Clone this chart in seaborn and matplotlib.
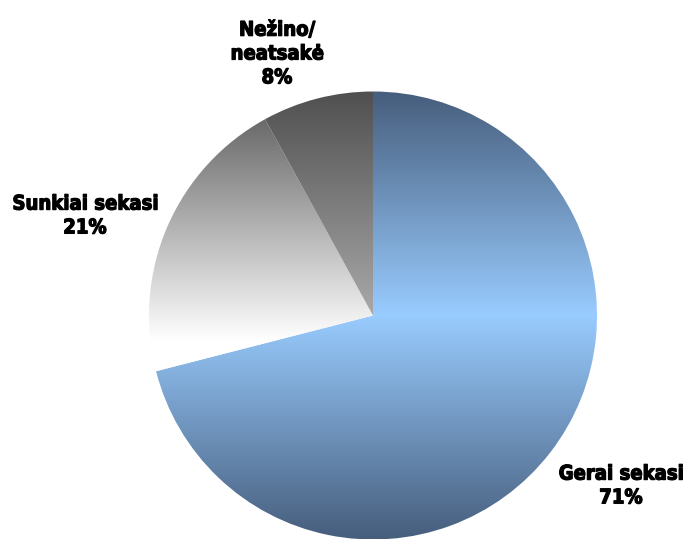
import numpy as np
import matplotlib
matplotlib.use("Agg")
import matplotlib.pyplot as plt
import matplotlib.patheffects as pe
from matplotlib.colors import to_rgb
import seaborn as sns

# Survey answers and their shares (%)
categories = ["Gerai sekasi", "Sunkiai sekasi", "Nežino/\nneatsakė"]
shares = [71, 21, 8]

sns.set_theme(style="white")
plt.rcParams["font.family"] = ["DejaVu Sans"]

W, H = 685, 539
fig = plt.figure(figsize=(W / 100, H / 100), dpi=100)
ax = fig.add_axes([0, 0, 1, 1])

cx, cy_px, r = 373, 315.5, 224
cy = H - cy_px

wedges, _ = ax.pie(shares, startangle=90, counterclock=False,
                   center=(cx, cy), radius=r,
                   wedgeprops=dict(linewidth=0, edgecolor="none"))
ax.set_aspect("auto")
ax.axis("off")

# Vertical gradient stops per slice, given as (pixel row from top, colour)
gradients = [
    [(93, "#475e7d"), (315, "#99ccff"), (538, "#475e7d")],
    [(120, "#6a6a6a"), (340, "#ffffff"), (539, "#ffffff")],
    [(93, "#505050"), (318, "#aaaaaa"), (539, "#aaaaaa")],
]

rows = np.arange(H) + 0.5
for wedge, stops in zip(wedges, gradients):
    ys = np.array([s[0] for s in stops], float)
    cols = np.array([to_rgb(s[1]) for s in stops])
    img = np.stack([np.interp(rows, ys, cols[:, k]) for k in range(3)], axis=-1)
    img = np.repeat(img[:, None, :], 2, axis=1)
    wedge.set_facecolor("none")
    im = ax.imshow(img, extent=(0, W, 0, H), origin="upper",
                   aspect="auto", interpolation="bilinear", zorder=1)
    im.set_clip_path(wedge)

ax.set_xlim(0, W)
ax.set_ylim(0, H)

# Label positions (x, y from top) for each slice
label_pos = [(621, 486), (85, 216), (277, 54)]
heavy = [pe.withStroke(linewidth=0.9, foreground="black")]
for name, val, (lx, ly) in zip(categories, shares, label_pos):
    ax.text(lx, H - ly, f"{name}\n{val}%", ha="center", va="center",
            fontsize=14.5, fontweight="bold", fontstretch="condensed",
            color="black", linespacing=1.32, zorder=5, path_effects=heavy)

fig.savefig("out.png", dpi=100)
